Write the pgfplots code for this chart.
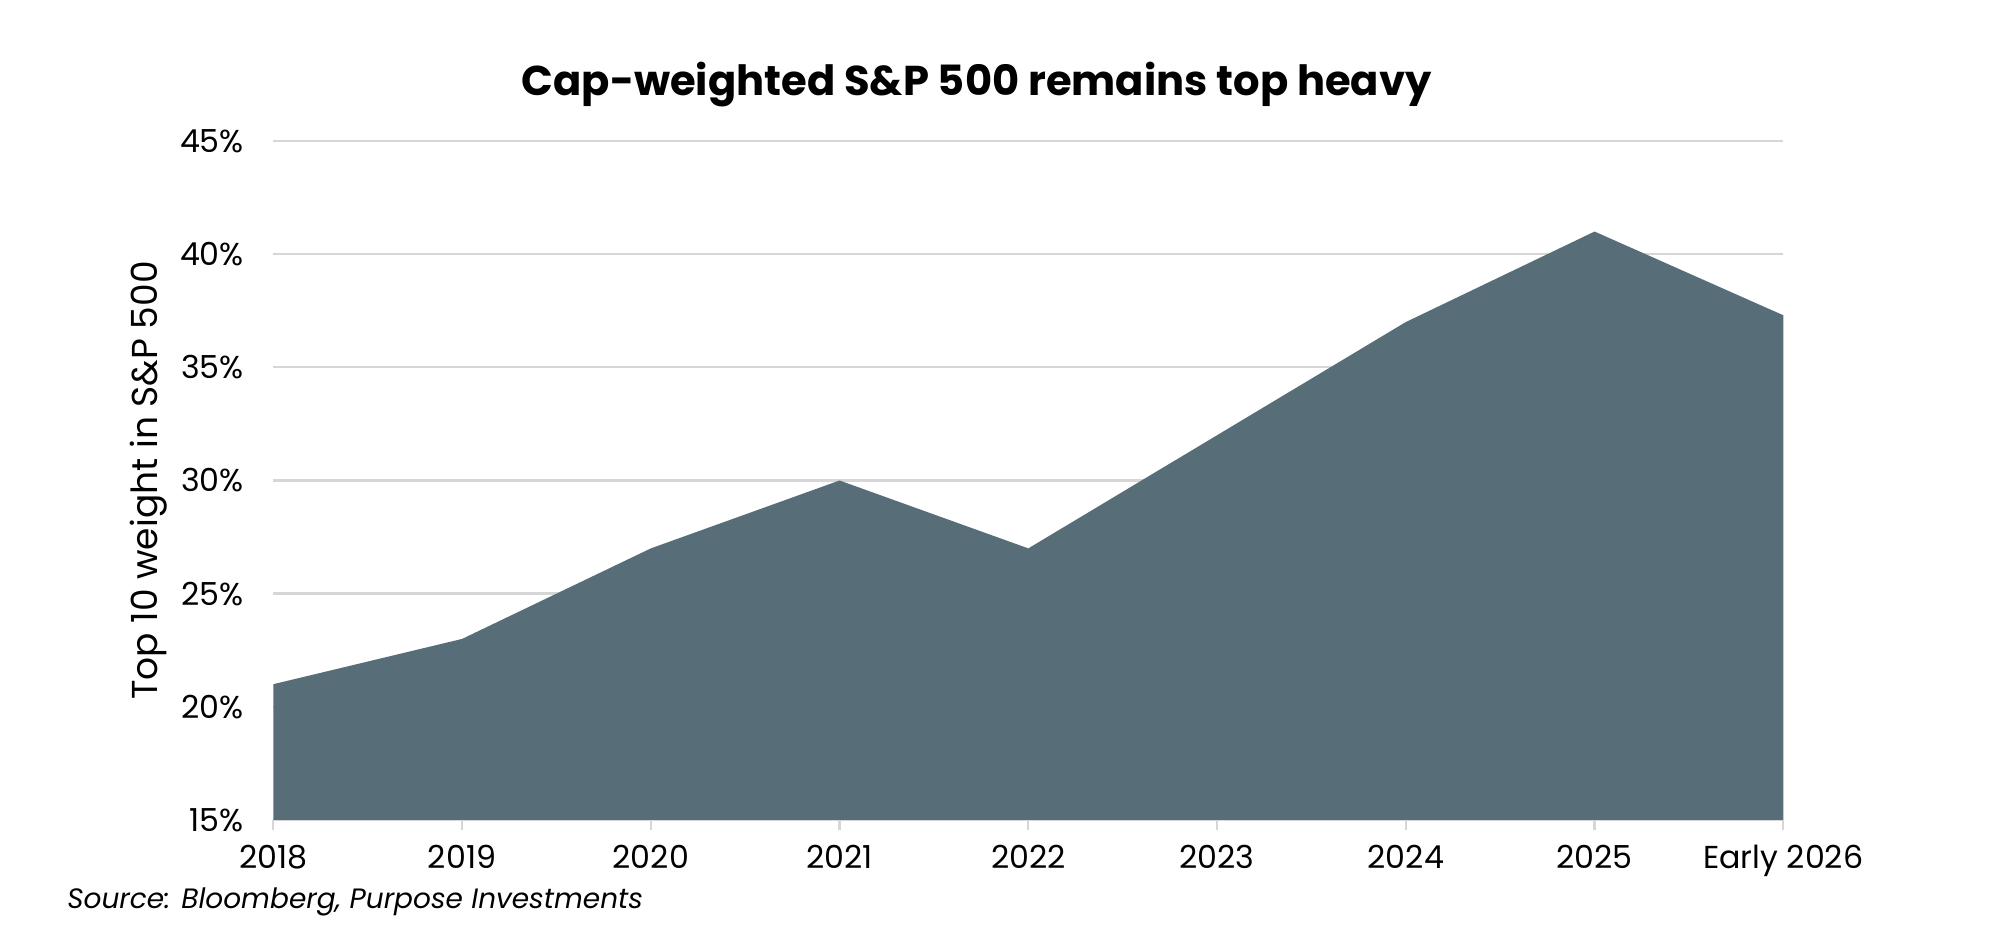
\documentclass[border=0pt]{standalone}
\usepackage{fontspec}
\setmainfont{Poppins}
\usepackage{pgfplots}
\pgfplotsset{compat=1.18}
\definecolor{areafill}{HTML}{576E79}
\definecolor{gridgray}{HTML}{D6D6D6}
\begin{document}
\begin{tikzpicture}
\begin{axis}[
    scale only axis,
    width=453pt,
    height=203.7pt,
    at={(0,0)}, anchor=south west,
    xmin=0, xmax=8,
    ymin=15, ymax=45,
    xtick={0,...,8},
    xticklabels={2018,2019,2020,2021,2022,2023,2024,2025,Early 2026},
    ytick={15,20,...,45},
    yticklabels={15\%,20\%,25\%,30\%,35\%,40\%,45\%},
    axis x line*=bottom,
    axis y line*=left,
    x axis line style={gridgray, line width=0.7pt, -},
    y axis line style={draw=none},
    ymajorgrids,
    major grid style={gridgray, line width=0.7pt},
    tick align=outside,
    major tick length=3pt,
    xtick style={gridgray, line width=0.7pt},
    ytick style={draw=none},
    tick label style={font=\fontsize{9.5}{11}\selectfont, text=black},
    xticklabel style={yshift=-1pt},
    yticklabel style={xshift=-2.3pt},
    ylabel={Top 10 weight in S\&P 500},
    ylabel style={at={(axis description cs:-0.0825,0.5)}, anchor=center, font=\fontsize{10.8}{12}\selectfont},
]
\addplot[fill=areafill, draw=none] coordinates {
    (0,21) (1,23) (2,27) (3,30) (4,27) (5,32) (6,37) (7,41) (8,37.3)
} \closedcycle;
\end{axis}
\path[use as bounding box] (-82pt,-39.6pt) rectangle (518pt,246pt);
\node[font=\bfseries\fontsize{12.5}{15}\selectfont] at (211pt,220.5pt) {Cap-weighted S\&P 500 remains top heavy};
\node[anchor=west, inner sep=0pt, font=\itshape\fontsize{8.4}{10}\selectfont] at (-62pt,-24.6pt) {Source: Bloomberg, Purpose Investments};
\end{tikzpicture}
\end{document}
